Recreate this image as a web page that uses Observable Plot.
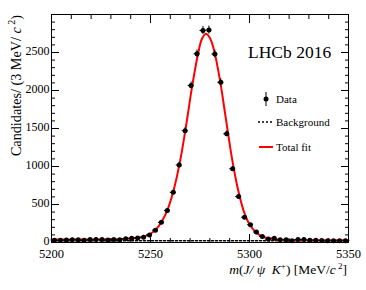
<!DOCTYPE html>
<html><head><meta charset="utf-8">
<script src="https://cdn.jsdelivr.net/npm/d3@7"></script>
<script src="https://cdn.jsdelivr.net/npm/@observablehq/plot@0.6"></script>
<style>
body{margin:0;background:#fff;}
#chart{position:relative;width:366px;height:290px;}
#chart svg, #chart svg text{font-family:"Liberation Serif", serif !important;}
</style>
</head><body><div id="chart"></div>
<script>
// Bin centres (3 MeV bins) and candidate counts
const massBins = [5201.5,5204.5,5207.5,5210.5,5213.5,5216.5,5219.5,5222.5,5225.5,5228.5,
  5231.5,5234.5,5237.5,5240.5,5243.5,5246.5,5249.5,5252.5,5255.5,5258.5,
  5261.5,5264.5,5267.5,5270.5,5273.5,5276.5,5279.5,5282.5,5285.5,5288.5,
  5291.5,5294.5,5297.5,5300.5,5303.5,5306.5,5309.5,5312.5,5315.5,5318.5,
  5321.5,5324.5,5327.5,5330.5,5333.5,5336.5,5339.5,5342.5,5345.5,5348.5];
const counts = [28,28,32,35,35,28,38,38,38,33,
  38,35,50,55,60,70,100,162,265,420,
  660,1020,1472,2066,2483,2790,2795,2480,2109,1430,
  970,605,332,234,138,80,45,57,35,35,
  22,40,40,30,30,25,22,22,22,22];
// Total fit curve
const fitMass = [5200,5210,5220,5230,5236,5240,5244,5247,5250,5253,5256,5259,5262,5265,5268,5271,5274,5276,5278,5280,5282,5285,5288,5291,5294,5297,5300,5303,5306,5309,5312,5316,5320,5330,5340,5350];
const fitValues = [38,39,40,42,46,52,62,80,115,180,290,460,720,1080,1540,2050,2480,2680,2746,2690,2540,2150,1640,1130,720,420,240,140,85,58,44,36,32,30,29,28];
// Background component
const bkgMass = [5200, 5350];
const bkgValues = [22, 22];
// Axis ticks
const xMajorTicks = [5200, 5250, 5300, 5350];
const yMajorTicks = [0, 500, 1000, 1500, 2000, 2500];
const xMinorTicks = d3.range(5200, 5351, 10);
const yMinorTicks = d3.range(0, 3000, 100);

const data = massBins.map((m, i) => ({m, n: counts[i], err: Math.sqrt(counts[i])}));
const fit = fitMass.map((m, i) => ({m, v: fitValues[i]}));
const bkg = bkgMass.map((m, i) => ({m, v: bkgValues[i]}));
const blank = () => "";
const serif = "Liberation Serif";

const svg = Plot.plot({
  width: 366, height: 290,
  marginLeft: 51, marginRight: 18, marginTop: 14, marginBottom: 48,
  x: {domain: [5200, 5350]},
  y: {domain: [0, 3000]},
  style: {fontFamily: serif, fontSize: "12px", background: "white", color: "black"},
  marks: [
    Plot.line(bkg, {x: "m", y: "v", stroke: "black", strokeWidth: 1.5, strokeDasharray: "2,2"}),
    Plot.line(fit, {x: "m", y: "v", stroke: "#ff0000", strokeWidth: 2, curve: "catmull-rom"}),
    Plot.ruleX(data, {x: "m", y1: d => d.n - d.err, y2: d => d.n + d.err, stroke: "black", strokeWidth: 1}),
    Plot.ruleY(data, {y: "n", x1: d => d.m - 1.5, x2: d => d.m + 1.5, stroke: "black", strokeWidth: 1}),
    Plot.dot(data, {x: "m", y: "n", r: 2.5, fill: "black"}),
    // inward ticks
    Plot.axisX({anchor: "bottom", ticks: xMinorTicks, tickSize: -4, tickFormat: blank, label: null}),
    Plot.axisX({anchor: "bottom", ticks: xMajorTicks, tickSize: -8, tickFormat: blank, label: null}),
    Plot.axisX({anchor: "top", ticks: xMinorTicks, tickSize: -4, tickFormat: blank, label: null}),
    Plot.axisX({anchor: "top", ticks: xMajorTicks, tickSize: -8, tickFormat: blank, label: null}),
    Plot.axisY({anchor: "left", ticks: yMinorTicks, tickSize: -4, tickFormat: blank, label: null}),
    Plot.axisY({anchor: "left", ticks: yMajorTicks, tickSize: -8, tickFormat: blank, label: null}),
    Plot.axisY({anchor: "right", ticks: yMinorTicks, tickSize: -4, tickFormat: blank, label: null}),
    Plot.axisY({anchor: "right", ticks: yMajorTicks, tickSize: -8, tickFormat: blank, label: null}),
    // labels
    Plot.axisX({anchor: "bottom", ticks: xMajorTicks, tickSize: 0, tickPadding: 7, tickFormat: d => String(d), label: null, fontSize: 12.5, fontFamily: serif}),
    Plot.axisY({anchor: "left", ticks: yMajorTicks, tickSize: 0, tickPadding: 2, dy: -1, tickFormat: d => String(d), label: null, fontSize: 12, fontFamily: serif}),
    Plot.frame({stroke: "black", strokeWidth: 1})
  ]
});
document.getElementById("chart").appendChild(svg);

// Titles, experiment label and legend
const s = d3.select(svg);
const yt = s.append("text").attr("transform", "translate(20.5,15) rotate(-90)")
  .attr("text-anchor", "end").attr("font-family", serif).attr("font-size", 14.2).attr("fill", "black");
yt.append("tspan").text("Candidates/ (3 MeV/ ");
yt.append("tspan").attr("font-style", "italic").text("c");
yt.append("tspan").attr("font-size", 10).attr("dy", -5.5).text(" 2");
yt.append("tspan").attr("dy", 5.5).text(")");

const xt = s.append("text").attr("x", 347).attr("y", 274).attr("text-anchor", "end")
  .attr("font-family", serif).attr("font-size", 13.5).attr("fill", "black");
xt.append("tspan").attr("font-style", "italic").text("m");
xt.append("tspan").text("(");
xt.append("tspan").attr("font-style", "italic").text("J/ ψ  K");
xt.append("tspan").attr("font-size", 9).attr("dy", -5).text("+");
xt.append("tspan").attr("dy", 5).text(") [MeV/");
xt.append("tspan").attr("font-style", "italic").text("c");
xt.append("tspan").attr("font-size", 9).attr("dy", -5).text(" 2");
xt.append("tspan").attr("dy", 5).text("]");

s.append("text").attr("x", 248).attr("y", 58).attr("text-anchor", "start").attr("font-family", serif)
  .attr("font-size", 17.5).attr("fill", "black").text("LHCb 2016");

const lg = s.append("g").attr("font-family", serif).attr("font-size", 11).attr("fill", "black")
  .attr("text-anchor", "start");
lg.append("line").attr("x1", 266).attr("x2", 266).attr("y1", 92).attr("y2", 106).attr("stroke", "black");
lg.append("circle").attr("cx", 266).attr("cy", 99).attr("r", 2.5).attr("fill", "black");
lg.append("text").attr("x", 276).attr("y", 103).text("Data");
lg.append("line").attr("x1", 258).attr("x2", 273).attr("y1", 122).attr("y2", 122)
  .attr("stroke", "black").attr("stroke-width", 1.5).attr("stroke-dasharray", "2,2");
lg.append("text").attr("x", 276).attr("y", 125.5).text("Background");
lg.append("line").attr("x1", 259).attr("x2", 273).attr("y1", 147).attr("y2", 147)
  .attr("stroke", "#ff0000").attr("stroke-width", 2);
lg.append("text").attr("x", 276).attr("y", 151).text("Total fit");
</script>
</body></html>
